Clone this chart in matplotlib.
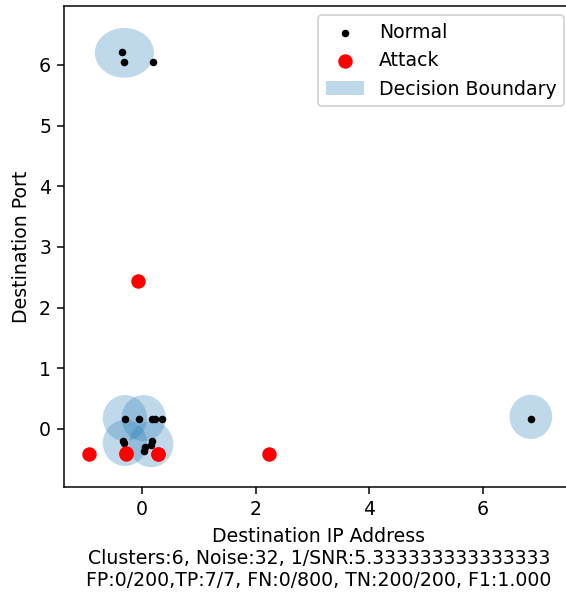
import matplotlib
matplotlib.use("Agg")
import matplotlib.pyplot as plt
from matplotlib.patches import Ellipse

# Normal traffic samples (destination IP, destination port), scaled
normal_x = [-0.36, -0.31, 0.19,
            -0.30, -0.05, 0.17, 0.23, 0.36,
            -0.33, -0.31, 0.17, 0.16, 0.05, 0.04,
            6.84]
normal_y = [6.21, 6.05, 6.05,
            0.17, 0.17, 0.17, 0.17, 0.17,
            -0.19, -0.23, -0.19, -0.26, -0.30, -0.37,
            0.17]

# Attack samples
attack_x = [-0.94, -0.29, -0.29, 0.29, 0.29, 2.23, -0.07]
attack_y = [-0.41, -0.42, -0.40, -0.41, -0.41, -0.41, 2.44]

# Cluster decision boundaries: centre and extent
boundary_cx = [-0.31, 6.84, -0.30, 0.03, -0.30, 0.16]
boundary_cy = [6.20, 0.20, 0.18, 0.18, -0.23, -0.25]
boundary_w = [1.04, 0.75, 0.78, 0.78, 0.78, 0.78]
boundary_h = [0.82, 0.73, 0.76, 0.76, 0.76, 0.76]

xlabel = ("Destination IP Address\n"
          "Clusters:6, Noise:32, 1/SNR:5.333333333333333\n"
          "FP:0/200,TP:7/7, FN:0/800, TN:200/200, F1:1.000")

DPI = 136
fig = plt.figure(figsize=(566 / DPI, 593 / DPI), dpi=DPI)
ax = fig.add_axes([64.3 / 566, (593 - 487) / 593, (573.5 - 64.3) / 566, (487 - 5.7) / 593])

for i, (cx, cy, w, h) in enumerate(zip(boundary_cx, boundary_cy, boundary_w, boundary_h)):
    ax.add_patch(Ellipse((cx, cy), w, h, facecolor="C0", edgecolor="none", alpha=0.28,
                         label="Decision Boundary" if i == 0 else None))

ax.scatter(normal_x, normal_y, s=9, c="black", label="Normal", zorder=3)
ax.scatter(attack_x, attack_y, s=44, c="red", label="Attack", zorder=3)

ax.set_xlim(-1.367, 7.59)
ax.set_ylim(-0.956, 6.977)
ax.set_xticks([0, 2, 4, 6])
ax.set_yticks([0, 1, 2, 3, 4, 5, 6])
ax.set_xlabel(xlabel)
ax.set_ylabel("Destination Port")

handles, labels = ax.get_legend_handles_labels()
order = [labels.index("Normal"), labels.index("Attack"), labels.index("Decision Boundary")]
ax.legend([handles[i] for i in order], [labels[i] for i in order], loc="upper right")

fig.savefig("out.png", dpi=DPI)
